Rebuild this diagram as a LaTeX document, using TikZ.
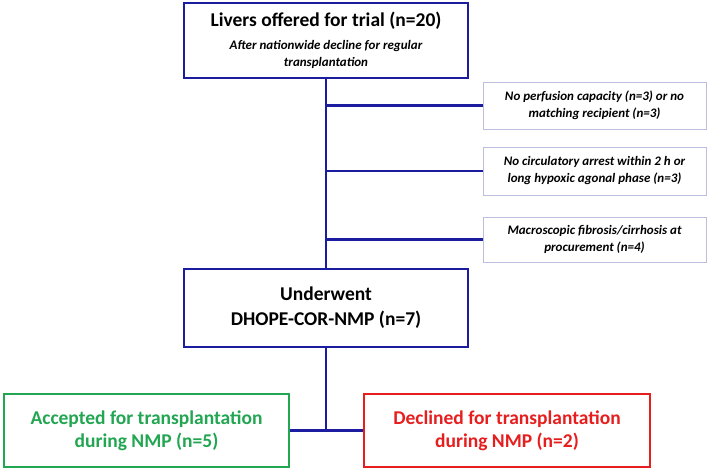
\documentclass[tikz,border=0pt]{standalone}
\usepackage{fontspec}
\setmainfont{Carlito}
\definecolor{navy}{HTML}{1C1CA0}
\definecolor{sideb}{HTML}{BDBDE0}
\definecolor{okgreen}{HTML}{22A651}
\definecolor{nored}{HTML}{E61E1E}
\begin{document}
\begin{tikzpicture}[x=1pt,y=-1pt,
  mainbox/.style={draw=navy,line width=2.4pt,fill=white,align=center,inner sep=2pt,font=\bfseries},
  sidebox/.style={draw=sideb,line width=0.8pt,fill=white,align=center,inner sep=2pt,font=\bfseries\itshape\fontsize{13}{17}\selectfont,minimum width=223pt},
  link/.style={draw=navy,line width=2.2pt}]
\useasboundingbox (0,0) rectangle (709,474);
\node[mainbox,minimum width=284pt,minimum height=75pt] (top) at (326,40.5) {};
\node[font=\bfseries\fontsize{19.5}{22}\selectfont] (ttl) at (326,21) {Livers offered for trial (n=20)};
\node[font=\bfseries\itshape\fontsize{13}{17}\selectfont,align=center] (sub) at (326,54) {After nationwide decline for regular\\transplantation};
\node[sidebox,minimum height=47pt] (s1) at (594.5,105.5) {No perfusion capacity (n=3) or no\\matching recipient (n=3)};
\node[sidebox,minimum height=48pt] (s2) at (594.5,171) {No circulatory arrest within 2 h or\\long hypoxic agonal phase (n=3)};
\node[sidebox,minimum height=45pt] (s3) at (594.5,239.5) {Macroscopic fibrosis/cirrhosis at\\procurement (n=4)};
\node[mainbox,minimum width=284pt,minimum height=78pt,font=\bfseries\fontsize{19.5}{25}\selectfont] (mid) at (326,308) {Underwent\\DHOPE-COR-NMP (n=7)};
\node[mainbox,draw=okgreen,text=okgreen,minimum width=285pt,minimum height=73pt,font=\bfseries\fontsize{19.5}{23}\selectfont] (acc) at (146.5,430.5) {Accepted for transplantation\\during NMP (n=5)};
\node[mainbox,draw=nored,text=nored,minimum width=286pt,minimum height=73pt,font=\bfseries\fontsize{19.5}{23}\selectfont] (dec) at (507,430.5) {Declined for transplantation\\during NMP (n=2)};
\coordinate (j) at (mid.south |- acc.east);
\path[link] (top.south) -- (mid.north);
\path[link] (s1.west) -- (s1.west -| top.south);
\path[link] (s2.west) -- (s2.west -| top.south);
\path[link] (s3.west) -- (s3.west -| top.south);
\path[link] (mid.south) -- (j);
\path[link] (acc.east) -- (dec.west);
\end{tikzpicture}
\end{document}
